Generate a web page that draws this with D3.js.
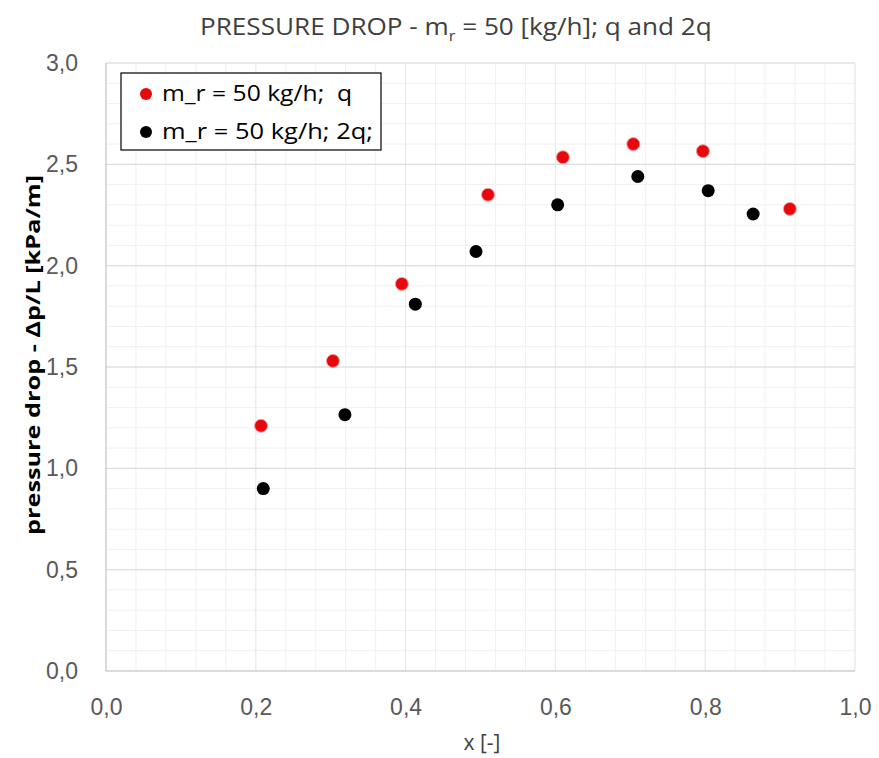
<!DOCTYPE html>
<html lang="en">
<head>
    <meta charset="UTF-8">
    <title>pressure drop</title>
    <style>
        body { margin: 0; background: #fff; }
        svg { font-family: "Open Sans", sans-serif; }
        svg text { white-space: pre; }
        .axis path, .axis line { display: none; }
        .axis text { fill: #595959; font-size: 23px; }
    </style>
</head>
<body>
    <svg></svg>
    <script src="https://cdn.jsdelivr.net/npm/d3@7"></script>
    <script>
        // q series
        var xQ = [0.207, 0.303, 0.395, 0.510, 0.610, 0.704, 0.797, 0.913]
        var yQ = [1.21, 1.53, 1.91, 2.35, 2.535, 2.60, 2.565, 2.28]
        // 2q series
        var x2Q = [0.210, 0.319, 0.413, 0.494, 0.603, 0.710, 0.804, 0.864]
        var y2Q = [0.90, 1.265, 1.81, 2.07, 2.30, 2.44, 2.37, 2.255]
        var xTicks = [0, 0.2, 0.4, 0.6, 0.8, 1.0]
        var yTicks = [0, 0.5, 1.0, 1.5, 2.0, 2.5, 3.0]
        var seriesNames = ['m_r = 50 kg/h;  q', 'm_r = 50 kg/h; 2q;']
        var seriesColors = ['#e8070d', '#000000']

        var W = 879, H = 758
        var pLeft = 106, pRight = 855, pTop = 63, pBottom = 671

        var svg = d3.select('svg').attr('width', W).attr('height', H)

        var xScale = d3.scaleLinear().domain([0, 1]).range([pLeft, pRight])
        var yScale = d3.scaleLinear().domain([0, 3]).range([pBottom, pTop])

        //网格 minor
        var g = svg.append('g')
        g.selectAll('.vminor')
            .data(d3.range(0, 1.0001, 0.04))
            .enter().append('line')
            .attr('x1', d => xScale(d)).attr('x2', d => xScale(d))
            .attr('y1', pTop).attr('y2', pBottom)
            .attr('stroke', '#f0f0f0').attr('stroke-width', 1)
        g.selectAll('.hminor')
            .data(d3.range(0, 3.0001, 0.1))
            .enter().append('line')
            .attr('y1', d => yScale(d)).attr('y2', d => yScale(d))
            .attr('x1', pLeft).attr('x2', pRight)
            .attr('stroke', '#f0f0f0').attr('stroke-width', 1)
        // major
        g.selectAll('.vmajor')
            .data(xTicks.slice(1))
            .enter().append('line')
            .attr('x1', d => xScale(d)).attr('x2', d => xScale(d))
            .attr('y1', pTop).attr('y2', pBottom)
            .attr('stroke', '#e8e8e8')
        g.selectAll('.hmajor')
            .data(yTicks.slice(1))
            .enter().append('line')
            .attr('y1', d => yScale(d)).attr('y2', d => yScale(d))
            .attr('x1', pLeft).attr('x2', pRight)
            .attr('stroke', '#d9d9d9')

        // axis lines
        svg.append('line').attr('x1', pLeft).attr('x2', pLeft).attr('y1', pTop).attr('y2', pBottom)
            .attr('stroke', '#bfbfbf')
        svg.append('line').attr('x1', pLeft).attr('x2', pRight).attr('y1', pBottom).attr('y2', pBottom)
            .attr('stroke', '#bfbfbf')

        var fmt = d => d3.format('.1f')(d).replace('.', ',')

        var xAxis = d3.axisBottom(xScale).tickValues(xTicks).tickFormat(fmt).tickSize(0).tickPadding(28)
        svg.append('g').attr('class', 'axis').attr('transform', 'translate(0,' + pBottom + ')').call(xAxis)

        var yAxis = d3.axisLeft(yScale).tickValues(yTicks).tickFormat(fmt).tickSize(0).tickPadding(28)
        svg.append('g').attr('class', 'axis').attr('transform', 'translate(' + pLeft + ',0)').call(yAxis)

        // points
        var q = xQ.map((x, i) => [x, yQ[i]])
        var q2 = x2Q.map((x, i) => [x, y2Q[i]])
        svg.append('g').selectAll('circle').data(q2).enter().append('circle')
            .attr('cx', d => xScale(d[0])).attr('cy', d => yScale(d[1])).attr('r', 6.5)
            .attr('fill', seriesColors[1])
        svg.append('g').selectAll('circle').data(q).enter().append('circle')
            .attr('cx', d => xScale(d[0])).attr('cy', d => yScale(d[1])).attr('r', 6.5)
            .attr('fill', seriesColors[0]).attr('stroke', '#f5a0a0').attr('stroke-width', 1)

        // legend
        svg.append('rect').attr('x', 121).attr('y', 73).attr('width', 260).attr('height', 77)
            .attr('fill', '#fff').attr('stroke', '#000').attr('stroke-width', 1.2)
        var legW = [190, 211]
        var leg = svg.append('g').selectAll('g').data(seriesNames).enter().append('g')
            .attr('transform', (d, i) => 'translate(146,' + (94 + i * 38) + ')')
        leg.append('circle').attr('r', 6).attr('fill', (d, i) => seriesColors[i])
        leg.append('text').attr('x', 16).attr('dy', '0.35em').attr('font-size', 21)
            .attr('textLength', (d, i) => legW[i]).attr('lengthAdjust', 'spacingAndGlyphs')
            .attr('fill', '#000').text(d => d)

        // title
        var title = svg.append('text').attr('x', 200).attr('y', 35)
            .attr('font-size', 24).attr('fill', '#404040')
        title.append('tspan').text('PRESSURE DROP - m')
        title.append('tspan').attr('font-size', 15).attr('dy', 6).text('r')
        title.append('tspan').attr('dy', -6).text(' = 50 [kg/h]; q and 2q')
        // stretch title to the reference width
        var tw = title.node().getComputedTextLength()
        title.attr('transform', 'translate(200,0) scale(' + (512 / tw) + ',1) translate(-200,0)')

        svg.append('text').attr('x', 482).attr('y', 750).attr('text-anchor', 'middle')
            .attr('font-size', 21).attr('fill', '#404040').text('x [-]')

        svg.append('text').attr('transform', 'translate(40,355) rotate(-90)')
            .attr('text-anchor', 'middle').attr('font-size', 20).attr('font-weight', 'bold')
            .attr('textLength', 360).attr('lengthAdjust', 'spacingAndGlyphs')
            .attr('fill', '#000').text('pressure drop - Δp/L [kPa/m]')
    </script>
</body>
</html>
